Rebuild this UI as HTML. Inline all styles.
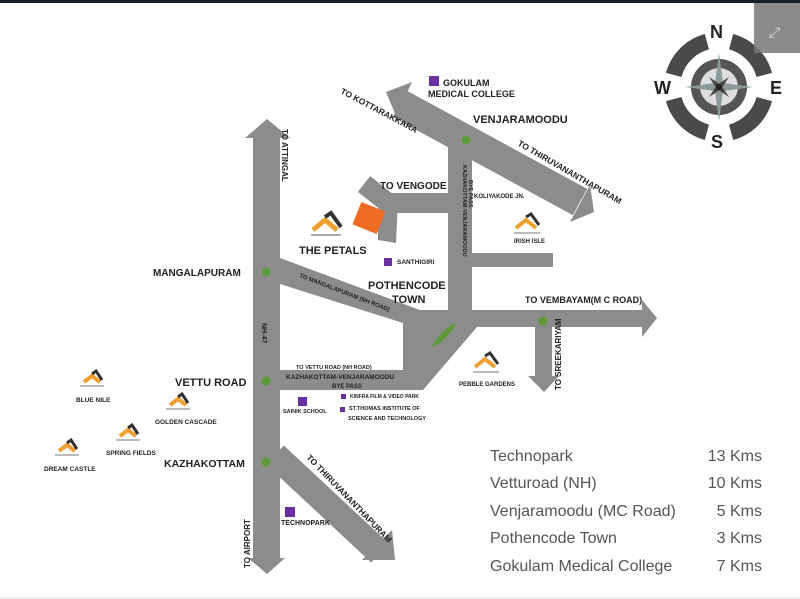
<!DOCTYPE html>
<html><head><meta charset="utf-8"><style>
body{margin:0;background:#fff}
svg{display:block}
text{font-family:"Liberation Sans",sans-serif}
.b{font-weight:bold;fill:#222}
</style></head><body>
<svg width="800" height="599" viewBox="0 0 800 599" xmlns="http://www.w3.org/2000/svg">
<rect width="800" height="599" fill="#fff"/>
<rect width="800" height="3" fill="#1a1f2e"/>
<g fill="#8c8c8c">
<!-- NH -->
<rect x="253" y="136" width="27" height="424"/>
<polygon points="245,138 290,138 267,119"/>
<polygon points="248,558 285,558 267,574"/>
<!-- thiru diagonal -->
<line x1="275" y1="455" x2="380" y2="553" stroke="#8c8c8c" stroke-width="26"/>
<polygon points="362,560 392,530 395,560"/>
<!-- central -->
<polygon points="280,258 420,310 472,310 477,327 423,390 280,390 280,370 403,370 403,323 280,284"/>
<!-- vertical road -->
<rect x="448" y="140" width="24" height="172"/>
<!-- vembayam -->
<rect x="470" y="310" width="173" height="17"/>
<polygon points="642,300 642,337 657,318"/>
<!-- sreekariyam -->
<rect x="535" y="325" width="17" height="53"/>
<polygon points="528,376 559,376 544,392"/>
<!-- irish -->
<rect x="470" y="253" width="83" height="14"/>
<!-- venjaramoodu -->
<line x1="400" y1="104" x2="580" y2="202" stroke="#8c8c8c" stroke-width="30"/>
<polygon points="412,82 396,116 386,92"/>
<polygon points="570,222 590,185 594,212"/>
<!-- vengode -->
<rect x="385" y="193" width="65" height="20"/>
<line x1="364" y1="184" x2="392" y2="206" stroke="#8c8c8c" stroke-width="20"/>
<polygon points="378,200 398,200 396,243 378,240"/>
</g>
<rect x="356" y="206" width="26" height="24" fill="#ee6b22" transform="rotate(22 369 218)"/>
<g fill="#5d9b3a">
<circle cx="266" cy="272" r="4.5"/><circle cx="266" cy="381" r="4.5"/><circle cx="266" cy="462" r="4.5"/>
<circle cx="466" cy="140" r="4.5"/><circle cx="543" cy="321" r="4.5"/>
<ellipse cx="444" cy="335" rx="16" ry="3" transform="rotate(-45 444 335)"/>
</g>
<g fill="#6a2fa0">
<rect x="429" y="76" width="10" height="10"/><rect x="384" y="258" width="8" height="8"/>
<rect x="298" y="397" width="9" height="9"/><rect x="341" y="394" width="5" height="5"/>
<rect x="340" y="407" width="5" height="5"/><rect x="285" y="507" width="10" height="10"/>
</g>
<!-- labels -->
<text x="443" y="86" font-size="9" class="b">GOKULAM</text>
<text x="428" y="97" font-size="9" class="b">MEDICAL COLLEGE</text>
<text x="473" y="123" font-size="11" class="b">VENJARAMOODU</text>
<text x="340" y="93" font-size="8.5" class="b" transform="rotate(28 340 93)">TO KOTTARAKKARA</text>
<text x="517" y="145" font-size="8.5" class="b" transform="rotate(30 517 145)">TO THIRUVANANTHAPURAM</text>
<text x="380" y="189" font-size="10" class="b">TO VENGODE</text>
<text x="474" y="198" font-size="6" class="b">KOLIYAKODE JN.</text>
<text x="401" y="233" font-size="8" fill="#fff" transform="rotate(-20 401 233)">500 mts</text>
<text x="299" y="254" font-size="11" class="b">THE PETALS</text>
<text x="397" y="264" font-size="6.5" class="b">SANTHIGIRI</text>
<text x="368" y="289" font-size="11" class="b">POTHENCODE</text>
<text x="392" y="303" font-size="11" class="b">TOWN</text>
<text x="153" y="276" font-size="10" class="b">MANGALAPURAM</text>
<text x="299" y="277" font-size="6" class="b" transform="rotate(21 299 277)">TO MANGALAPURAM (NH ROAD)</text>
<text x="282" y="129" font-size="8" class="b" transform="rotate(90 282 129)">TO ATTINGAL</text>
<text x="262" y="323" font-size="7" class="b" transform="rotate(90 262 323)">NH-47</text>
<text x="463" y="165" font-size="5.5" class="b" transform="rotate(90 463 165)">KAZHAKOTTAM-VENJARAMOODU</text>
<text x="469" y="180" font-size="5.5" class="b" transform="rotate(90 469 180)">BYE PASS</text>
<text x="525" y="303" font-size="9" class="b">TO VEMBAYAM(M C ROAD)</text>
<text x="561" y="390" font-size="8" class="b" transform="rotate(-90 561 390)">TO SREEKARIYAM</text>
<text x="514" y="243" font-size="6" class="b">IRISH ISLE</text>
<text x="459" y="386" font-size="6" class="b">PEBBLE GARDENS</text>
<text x="296" y="369" font-size="5.5" class="b">TO VETTU ROAD (NH ROAD)</text>
<text x="286" y="379" font-size="6.5" class="b">KAZHAKOTTAM-VENJARAMOODU</text>
<text x="332" y="388" font-size="6" class="b">BYE PASS</text>
<text x="350" y="398" font-size="5" class="b">KINFRA FILM &amp; VIDEO PARK</text>
<text x="349" y="410" font-size="5.5" class="b">ST.THOMAS INSTITUTE OF</text>
<text x="348" y="420" font-size="5.5" class="b">SCIENCE AND TECHNOLOGY</text>
<text x="283" y="413" font-size="5.5" class="b">SAINIK SCHOOL</text>
<text x="175" y="386" font-size="11" class="b">VETTU ROAD</text>
<text x="164" y="467" font-size="10.5" class="b">KAZHAKOTTAM</text>
<text x="281" y="525" font-size="7" class="b">TECHNOPARK</text>
<text x="250" y="568" font-size="8" class="b" transform="rotate(-90 250 568)">TO AIRPORT</text>
<text x="306" y="458" font-size="8.5" class="b" transform="rotate(46 306 458)">TO THIRUVANANTHAPURAM</text>
<text x="76" y="402" font-size="6.5" class="b">BLUE NILE</text>
<text x="155" y="424" font-size="6.5" class="b">GOLDEN CASCADE</text>
<text x="106" y="455" font-size="6.5" class="b">SPRING FIELDS</text>
<text x="44" y="471" font-size="6.5" class="b">DREAM CASTLE</text>
<!-- logos -->
<g>
<g transform="translate(325,222)"><path d="M-12,8 L0,-2 L12,8" stroke="#f0a030" stroke-width="5" fill="none"/><path d="M0,-5 L6,-9 L16,5" stroke="#333" stroke-width="4" fill="none"/><rect x="-14" y="12" width="30" height="2" fill="#aaa"/></g>
<g transform="translate(526,220)"><path d="M-10,8 L0,0 L10,8" stroke="#f0a030" stroke-width="4" fill="none"/><path d="M0,-3 L5,-6 L13,5" stroke="#333" stroke-width="3" fill="none"/><rect x="-12" y="12" width="26" height="2" fill="#bbb"/></g>
<g transform="translate(485,359)"><path d="M-10,8 L0,0 L10,8" stroke="#f0a030" stroke-width="4" fill="none"/><path d="M0,-3 L5,-6 L13,5" stroke="#333" stroke-width="3" fill="none"/><rect x="-12" y="12" width="26" height="2" fill="#bbb"/></g>
<g transform="translate(92,376)"><path d="M-8,6 L0,0 L8,6" stroke="#f0a030" stroke-width="4" fill="none"/><path d="M0,-2 L4,-5 L10,4" stroke="#333" stroke-width="3" fill="none"/><rect x="-12" y="9" width="24" height="2" fill="#bbb"/></g>
<g transform="translate(178,399)"><path d="M-8,6 L0,0 L8,6" stroke="#f0a030" stroke-width="4" fill="none"/><path d="M0,-2 L4,-5 L10,4" stroke="#333" stroke-width="3" fill="none"/><rect x="-12" y="9" width="24" height="2" fill="#bbb"/></g>
<g transform="translate(128,430)"><path d="M-8,6 L0,0 L8,6" stroke="#f0a030" stroke-width="4" fill="none"/><path d="M0,-2 L4,-5 L10,4" stroke="#333" stroke-width="3" fill="none"/><rect x="-12" y="9" width="24" height="2" fill="#bbb"/></g>
<g transform="translate(67,445)"><path d="M-8,6 L0,0 L8,6" stroke="#f0a030" stroke-width="4" fill="none"/><path d="M0,-2 L4,-5 L10,4" stroke="#333" stroke-width="3" fill="none"/><rect x="-12" y="9" width="24" height="2" fill="#bbb"/></g>
</g>
<!-- compass -->
<g transform="translate(719,87)">
<g fill="none" stroke="#4a4a4a" stroke-width="16">
<path d="M-45.3,-12.1 A47,47 0 0 1 -12.1,-45.3"/>
<path d="M12.1,-45.3 A47,47 0 0 1 45.3,-12.1"/>
<path d="M45.3,12.1 A47,47 0 0 1 12.1,45.3"/>
<path d="M-12.1,45.3 A47,47 0 0 1 -45.3,12.1"/>
</g>
<circle r="28" fill="#555"/><circle r="19" fill="#ddd"/>
<polygon points="0,-34 4,-4 34,0 4,4 0,34 -4,4 -34,0 -4,-4" fill="#8a9a9a"/>
<polygon points="-10,-10 2,-2 10,10 -2,2" fill="#444"/><polygon points="10,-10 2,2 -10,10 -2,-2" fill="#444"/>
<circle r="3" fill="#222"/>
</g>
<text x="710" y="38" font-size="18" class="b">N</text>
<text x="654" y="94" font-size="18" class="b">W</text>
<text x="770" y="94" font-size="18" class="b">E</text>
<text x="711" y="148" font-size="18" class="b">S</text>
<rect x="754" y="3" width="46" height="50" fill="#777" opacity="0.85"/>
<text x="769" y="37" font-size="14" fill="#ddd">⤢</text>
<!-- table -->
<g font-size="16" fill="#555">
<text x="490" y="461">Technopark</text><text x="762" y="461" text-anchor="end">13 Kms</text>
<text x="490" y="488">Vetturoad (NH)</text><text x="762" y="488" text-anchor="end">10 Kms</text>
<text x="490" y="516">Venjaramoodu (MC Road)</text><text x="762" y="516" text-anchor="end">5 Kms</text>
<text x="490" y="543">Pothencode Town</text><text x="762" y="543" text-anchor="end">3 Kms</text>
<text x="490" y="571">Gokulam Medical College</text><text x="762" y="571" text-anchor="end">7 Kms</text>
</g>
<rect x="0" y="597" width="800" height="2" fill="#eee"/>
</svg>
</body></html>
